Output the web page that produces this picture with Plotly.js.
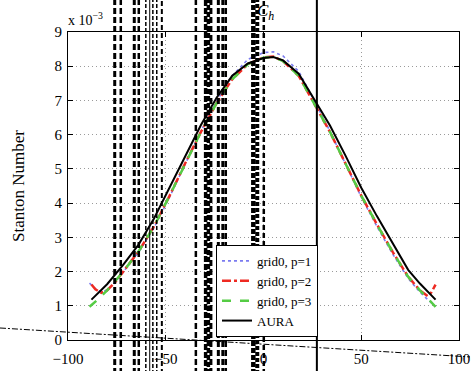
<!DOCTYPE html>
<html>
<head>
<meta charset="utf-8">
<script src="https://cdn.plot.ly/plotly-3.0.1.min.js"></script>
<style>
html,body{margin:0;padding:0;background:#fff;}
#chart{width:473px;height:371px;}
</style>
</head>
<body>
<div id="chart"></div>
<script>
// ---- data (Stanton number in units of 1e-3) ----
const xP1 = [-89,-86,-83,-80,-76,-72,-64,-56,-48,-40,-32,-24,-16,-8,0,5,10,18,26,34,42,50,58,66,74,80,84,88];
const yP1 = [1.66,1.50,1.40,1.46,1.68,1.96,2.55,3.28,4.18,5.15,6.10,6.98,7.72,8.20,8.40,8.42,8.30,7.85,7.00,6.10,5.12,4.18,3.32,2.52,1.80,1.40,1.18,0.98];

const xP2 = [-88,-86,-83,-80,-76,-72,-64,-56,-48,-40,-32,-24,-16,-8,0,5,10,18,26,34,42,50,58,66,74,80,84,86,88];
const yP2 = [1.62,1.48,1.38,1.45,1.68,1.98,2.58,3.32,4.22,5.17,6.08,6.92,7.62,8.06,8.26,8.28,8.15,7.72,6.92,6.08,5.15,4.22,3.38,2.58,1.85,1.45,1.28,1.40,1.62];

const xP3 = [-89,-84,-80,-76,-72,-64,-56,-48,-40,-32,-24,-16,-8,0,5,10,18,26,34,42,50,58,66,74,80,84,88];
const yP3 = [0.97,1.22,1.45,1.70,1.98,2.58,3.32,4.22,5.17,6.08,6.92,7.62,8.06,8.25,8.27,8.15,7.72,6.92,6.08,5.15,4.22,3.38,2.58,1.85,1.45,1.22,0.97];

const xAura = [-88,-84,-80,-72,-64,-56,-48,-40,-32,-24,-16,-8,0,5,10,18,26,34,42,50,58,66,74,80,84,88];
const yAura = [1.18,1.40,1.63,2.18,2.78,3.55,4.47,5.39,6.28,7.08,7.72,8.08,8.24,8.27,8.17,7.78,7.02,6.27,5.38,4.45,3.62,2.82,2.05,1.65,1.42,1.18];

const seriesNames = ['grid0, p=1','grid0, p=2','grid0, p=3','AURA'];

const xTicks = [-100,-50,0,50,100];
const yTicks = [0,1,2,3,4,5,6,7,8,9];

// stray vertical marker lines (x in data units) and their drawing style
const vLineX     = [-76.1,-73.0,-66.1,-63.8,-60.2,-58.2,-56.6,-54.6,-52.0,-34.6,-29.6,-28.2,-26.9,-23.1,-20.8,-19.3,-5.2,-3.2,0.15,27.3];
const vLineWidth = [3,2.5,3,2.5,1.5,1,1.5,1.5,2,2.5,3.5,3.5,3,3,3,2.5,4.5,4,2.5,2];
const vLineDash  = ['6px,3px','6px,3px','6px,3px','6px,3px','4px,2px','solid','4px,2px','4px,2px','5px,3px','6px,3px',
                    '6px,2px','5px,2px','6px,3px','6px,3px','6px,3px','6px,3px','5px,2px','4px,2px','5px,3px','solid'];

const serif = 'Liberation Serif, Times New Roman, serif';

const traces = [
  {x:xP1, y:yP1, name:seriesNames[0], mode:'lines', line:{color:'#7b7bf0', width:1.6, dash:'dot'}},
  {x:xP2, y:yP2, name:seriesNames[1], mode:'lines', line:{color:'#ee2a22', width:2.5, dash:'dashdot'}},
  {x:xP3, y:yP3, name:seriesNames[2], mode:'lines', line:{color:'#55cc44', width:2.5, dash:'dash'}},
  {x:xAura, y:yAura, name:seriesNames[3], mode:'lines', line:{color:'#000000', width:2}}
];

const shapes = vLineX.map((v,i)=>({
  type:'line', xref:'x', yref:'paper', x0:v, x1:v, y0:-0.11, y1:1.11,
  layer:'above', line:{color:'#000', width:vLineWidth[i], dash:vLineDash[i]}
}));
// slanted dash-dot stray line
shapes.push({type:'line', xref:'paper', yref:'paper', x0:-0.174, y0:0.039, x1:1.028, y1:-0.055,
  layer:'above', line:{color:'#000', width:1, dash:'6px,2px,2px,2px'}});

const axisCommon = {
  showline:true, linecolor:'#000', linewidth:1, mirror:'ticks',
  ticks:'inside', ticklen:5, tickcolor:'#000', tickwidth:1,
  showgrid:true, gridcolor:'#9a9a9a', gridwidth:1, griddash:'1px,3px',
  zeroline:false, tickfont:{family:serif, size:15, color:'#000'}
};

const layout = {
  width:473, height:371,
  margin:{l:68, r:14, t:32, b:31},
  paper_bgcolor:'#fff', plot_bgcolor:'#fff',
  showlegend:true,
  font:{family:serif, color:'#000'},
  xaxis:Object.assign({}, axisCommon, {range:[-100,100], tickvals:xTicks, ticklabelstandoff:5,
    ticktext:xTicks.map(v=>v<0?'\u2212'+Math.abs(v):String(v))}),
  yaxis:Object.assign({}, axisCommon, {range:[0,9], tickvals:yTicks, ticktext:yTicks.map(String), ticklabelstandoff:2,
    title:{text:'Stanton Number', font:{family:serif, size:17, color:'#000'}, standoff:25}}),
  legend:{x:0.3785, xanchor:'left', y:0.01, yanchor:'bottom', bgcolor:'#fff',
    bordercolor:'#000', borderwidth:1, font:{family:serif, size:13, color:'#000'},
    itemwidth:30, tracegroupgap:0},
  shapes:shapes,
  annotations:[
    {xref:'paper', yref:'paper', x:0, y:1, xanchor:'left', yanchor:'bottom', xshift:-2, yshift:2,
     text:'x 10<sup>\u22123</sup>', showarrow:false, font:{family:serif, size:14, color:'#000'}},
    {xref:'x', yref:'paper', x:1, y:1.065, xanchor:'center', yanchor:'middle',
     text:'<i>C<sub>h</sub></i>', showarrow:false, font:{family:serif, size:17, color:'#000'}}
  ]
};

Plotly.newPlot('chart', traces, layout, {displayModeBar:false, staticPlot:true});
</script>
</body>
</html>
